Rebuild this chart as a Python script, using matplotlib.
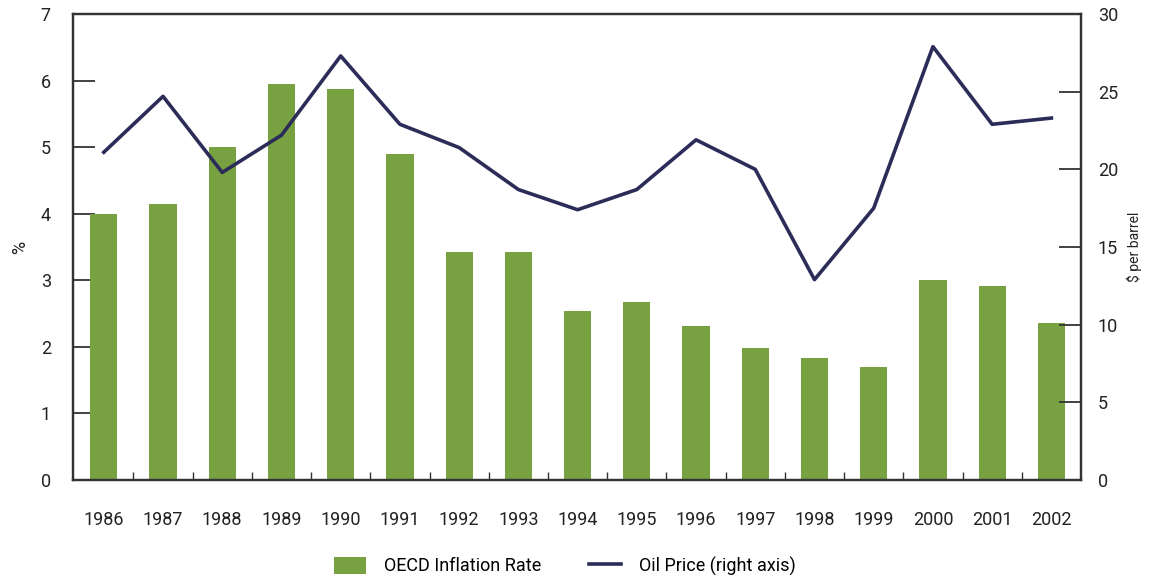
import matplotlib
matplotlib.use("Agg")
import matplotlib.pyplot as plt
import numpy as np
from matplotlib.patches import Patch
from matplotlib.lines import Line2D

years = ["1986", "1987", "1988", "1989", "1990", "1991", "1992", "1993", "1994",
         "1995", "1996", "1997", "1998", "1999", "2000", "2001", "2002"]
inflation = [4.0, 4.15, 5.0, 5.95, 5.87, 4.9, 3.42, 3.42, 2.54, 2.67, 2.31, 1.98,
             1.83, 1.70, 3.0, 2.91, 2.36]
oil_price = [21.1, 24.7, 19.8, 22.2, 27.3, 22.9, 21.4, 18.7, 17.4, 18.7, 21.9, 20.0,
             12.9, 17.5, 27.9, 22.9, 23.3]
left_ticks = [0, 1, 2, 3, 4, 5, 6, 7]
right_ticks = [0, 5, 10, 15, 20, 25, 30]

FONT = ["Roboto", "DejaVu Sans"]
plt.rcParams["font.family"] = FONT

BAR = "#78a142"
LINE = "#2c2c58"
SPINE = "#333333"
TXT = "#222222"

fig = plt.figure(figsize=(11.53, 5.88), dpi=100)
ax = fig.add_axes([73 / 1153, 1 - 480 / 588, (1081 - 73) / 1153, (480 - 14) / 588])
x = np.arange(len(years))
ax.bar(x, inflation, width=0.46, color=BAR, zorder=2)
ax.set_xlim(-0.52, len(years) - 0.5)
ax.set_ylim(0, 7)
ax.set_yticks(left_ticks)
ax.set_xticks(x)
ax.set_xticklabels(years)
ax.set_xticks(x[:-1] + 0.5, minor=True)
ax.tick_params(axis="x", which="major", length=0, pad=22, labelsize=13, colors=TXT)
ax.tick_params(axis="x", which="minor", direction="in", length=6, width=1, color=SPINE)
ax.tick_params(axis="y", direction="in", length=16, width=1.3, color=SPINE,
               labelsize=13, pad=16, labelcolor=TXT)
ax.set_ylabel("%", fontsize=13, labelpad=8, color=TXT)

ax2 = ax.twinx()
ax2.plot(x, oil_price, color=LINE, linewidth=2.6, zorder=3)
ax2.set_ylim(0, 30)
ax2.set_yticks(right_ticks)
ax2.tick_params(axis="y", direction="in", length=16, width=1.3, color=SPINE,
                labelsize=13, pad=12, labelcolor=TXT)
ax2.set_ylabel("$ per barrel", fontsize=10, rotation=90, labelpad=6, color=TXT)

for a in (ax, ax2):
    for s in a.spines.values():
        s.set_color(SPINE)
        s.set_linewidth(1.6)

handles = [Patch(facecolor=BAR, edgecolor="none"),
           Line2D([0], [0], color=LINE, linewidth=2.6)]
fig.legend(handles, ["OECD Inflation Rate", "Oil Price (right axis)"],
           loc="center", bbox_to_anchor=(0.49, 1 - 566 / 588), ncol=2, frameon=False,
           fontsize=13, handlelength=1.8, handleheight=1.1, columnspacing=2.6,
           handletextpad=1.0)

fig.savefig("out.png", dpi=100)
